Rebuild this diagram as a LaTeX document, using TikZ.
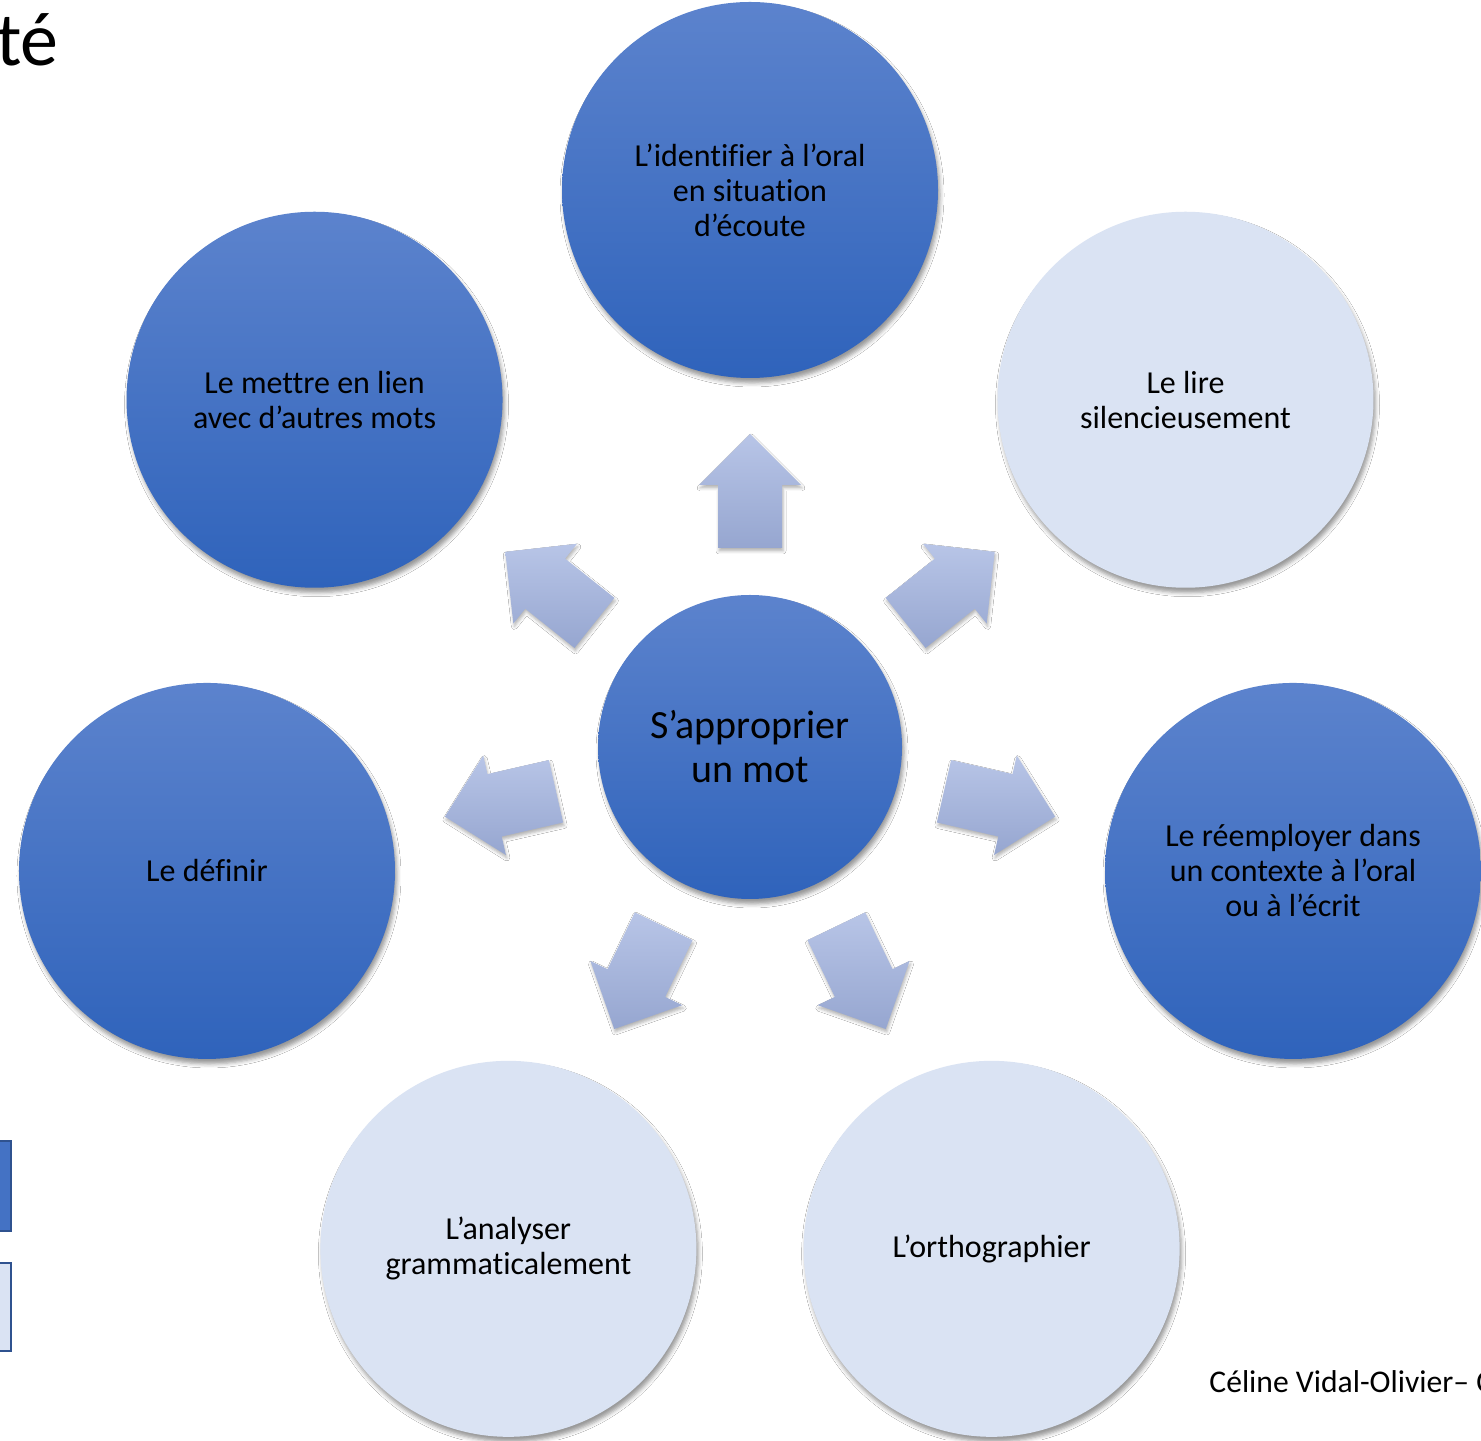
\documentclass[tikz,border=0pt]{standalone}
\usepackage{fontspec}
\setmainfont[Ligatures={NoCommon}]{Carlito}
\usetikzlibrary{calc,shadows.blur}
\definecolor{dtop}{RGB}{92,131,205}
\definecolor{dbot}{RGB}{47,99,187}
\definecolor{lfill}{RGB}{218,227,243}
\definecolor{atop}{RGB}{184,197,231}
\definecolor{abot}{RGB}{150,166,208}
\definecolor{rim}{RGB}{47,82,143}
\definecolor{rectblue}{RGB}{68,114,196}
\begin{document}
\begin{tikzpicture}[x=0.5pt,y=0.5pt,
  bubble/.style={circle, minimum size=188pt, inner sep=0pt, align=center,
    font=\fontsize{16}{17.5}\selectfont, text=black,
    blur shadow={shadow xshift=1pt, shadow yshift=-2.5pt, shadow blur radius=2pt, shadow opacity=40}},
  darkbubble/.style={bubble, top color=dtop, bottom color=dbot},
  lightbubble/.style={bubble, fill=lfill},
  hub/.style={darkbubble, minimum size=152pt, font=\fontsize{20}{22}\selectfont},
  blockarrow/.style={top color=atop, bottom color=abot,
    blur shadow={shadow xshift=0.5pt, shadow yshift=-1.5pt, shadow blur radius=1.5pt, shadow opacity=30}},
  legendbox/.style={draw=rim, line width=1.2pt}]
\useasboundingbox (0,0) rectangle (1481,1440);
\fill[white] (0,0) rectangle (1481,1440);
\clip (0,0) rectangle (1481,1440);

% title fragment and footer
\node[anchor=base east, inner sep=0pt, font=\fontsize{38}{40}\selectfont] (title) at (59,1374) {té};
\node[anchor=base west, inner sep=0pt, font=\fontsize{15.8}{18}\selectfont] (author) at (1209,48) {Céline Vidal-Olivier– C};

% legend boxes (cut at left edge)
\node[legendbox, fill=rectblue, minimum width=31pt, minimum height=45pt, inner sep=0pt] (leg1) at (-20,254) {};
\node[legendbox, fill=lfill, minimum width=31pt, minimum height=44pt, inner sep=0pt] (leg2) at (-20,133) {};

% hub
\node[hub] (c) at (750,693) {S’approprier\\un mot};

% outer circles
\node[darkbubble]  (n1) at ($(c)+(90:557)$)     {L’identifier à l’oral\\en situation\\d’écoute};
\node[darkbubble]  (n2) at ($(c)+(141.43:557)$) {Le mettre en lien\\avec d’autres mots};
\node[darkbubble]  (n3) at ($(c)+(192.86:557)$) {Le définir};
\node[lightbubble] (n4) at ($(c)+(244.29:557)$) {L’analyser\\grammaticalement};
\node[lightbubble] (n5) at ($(c)+(295.71:557)$) {L’orthographier};
\node[darkbubble]  (n6) at ($(c)+(347.14:557)$) {Le réemployer dans\\un contexte à l’oral\\ou à l’écrit};
\node[lightbubble] (n7) at ($(c)+(38.57:557)$)  {Le lire\\silencieusement};

% block arrows from hub towards each circle
\foreach \a in {90,141.43,192.86,244.29,295.71,347.14,38.57}{
  \shade[blockarrow]
    ($(c)+(\a:199)+(\a+90:32)$) --
    ($(c)+(\a:262)+(\a+90:32)$) --
    ($(c)+(\a:262)+(\a+90:51)$) --
    ($(c)+(\a:313)$) --
    ($(c)+(\a:262)+(\a-90:51)$) --
    ($(c)+(\a:262)+(\a-90:32)$) --
    ($(c)+(\a:199)+(\a-90:32)$) -- cycle;
}
\end{tikzpicture}
\end{document}
